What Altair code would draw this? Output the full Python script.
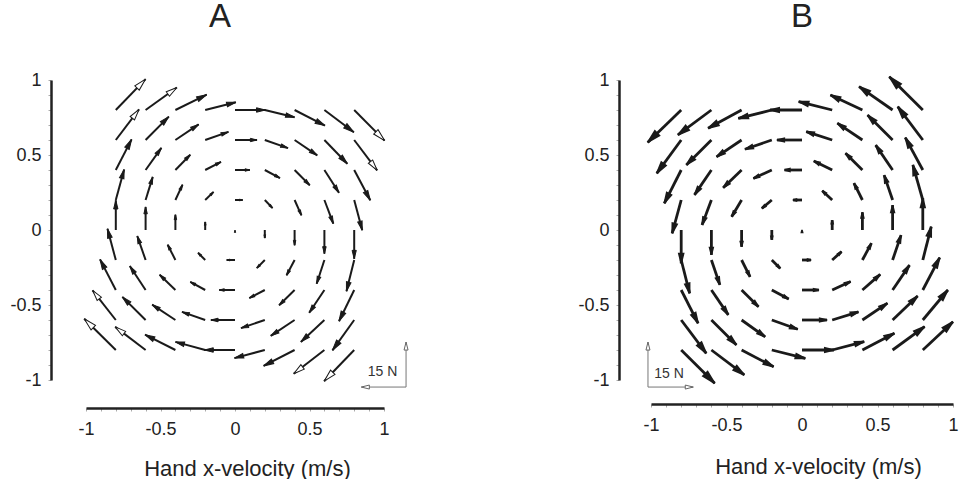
import altair as alt
import pandas as pd

# ---------------- data ----------------
GRID = [-0.8, -0.6, -0.4, -0.2, 0.0, 0.2, 0.4, 0.6, 0.8]          # hand velocity grid (m/s)
ROWS = [0.8, 0.6, 0.4, 0.2, 0.0, -0.2, -0.4, -0.6, -0.8]          # y-velocity of each row (top to bottom)
TICKS = [-1.0, -0.9, -0.8, -0.7, -0.6, -0.5, -0.4, -0.3, -0.2, -0.1, 0.0,
         0.1, 0.2, 0.3, 0.4, 0.5, 0.6, 0.7, 0.8, 0.9, 1.0]

# Panel A force components (N), rows top->bottom, columns left->right
A_FX = [
    [10.0, 10.5, 10.5, 10.3, 10.2, 10.0, 10.2, 9.9, 10.2],
    [7.8, 7.8, 7.8, 7.8, 7.4, 7.8, 7.6, 7.7, 7.7],
    [5.3, 5.3, 5.0, 5.3, 5.0, 5.1, 5.1, 4.9, 5.4],
    [2.8, 2.4, 2.4, 2.8, 2.6, 2.6, 2.3, 3.0, 2.7],
    [0.0, 0.0, 0.0, 0.0, 0.0, 0.0, 0.0, 0.0, 0.0],
    [-2.8, -2.8, -2.6, -2.4, -2.8, -2.7, -2.7, -2.6, -2.6],
    [-5.3, -5.3, -5.3, -5.0, -5.3, -5.2, -5.2, -5.1, -5.1],
    [-7.8, -7.8, -7.8, -7.8, -8.1, -8.0, -8.0, -7.9, -7.3],
    [-10.6, -10.2, -10.2, -10.0, -10.3, -10.2, -10.4, -10.3, -10.1],
]
A_FY = [
    [10.3, 7.5, 5.1, 2.6, 0.0, -2.4, -5.2, -7.4, -10.2],
    [10.2, 7.8, 5.2, 2.7, 0.0, -2.7, -5.1, -7.9, -10.1],
    [10.2, 7.4, 5.1, 2.7, 0.0, -2.7, -5.1, -7.6, -10.1],
    [10.2, 7.7, 5.1, 2.7, 0.0, -2.7, -5.1, -7.9, -10.1],
    [9.9, 7.7, 5.1, 2.7, 0.0, -2.7, -5.1, -7.9, -9.6],
    [10.4, 8.0, 5.1, 2.4, 0.0, -2.7, -5.1, -7.9, -10.4],
    [10.2, 8.0, 5.1, 2.7, 0.0, -2.7, -5.1, -7.6, -10.4],
    [9.9, 7.7, 5.1, 2.7, 0.0, -2.7, -5.3, -7.3, -10.1],
    [10.4, 7.7, 5.1, 2.7, 0.0, -2.7, -5.3, -7.9, -10.4],
]
# Panel B force components (N)
B_FX = [
    [-11.1, -11.1, -11.1, -11.1, -10.6, -11.1, -10.6, -11.1, -11.1],
    [-8.1, -8.3, -8.3, -8.9, -8.3, -8.6, -8.3, -8.3, -8.3],
    [-5.6, -5.6, -6.1, -6.1, -5.8, -6.1, -5.6, -5.6, -5.8],
    [-3.0, -3.1, -3.3, -3.3, -3.0, -3.3, -2.8, -2.8, -3.3],
    [0.0, 0.0, 0.0, 0.0, 0.0, 0.0, 0.0, 0.0, 0.0],
    [2.8, 2.8, 2.8, 2.8, 3.0, 3.1, 3.0, 2.8, 2.8],
    [5.6, 5.6, 5.6, 5.6, 5.6, 6.1, 5.9, 5.6, 5.6],
    [8.3, 8.3, 7.8, 8.6, 8.3, 8.7, 8.3, 8.3, 8.3],
    [11.1, 10.9, 10.6, 11.1, 10.6, 10.6, 10.6, 10.6, 10.0],
]
B_FY = [
    [-10.8, -8.3, -6.1, -2.8, 0.0, 2.8, 5.0, 7.8, 11.1],
    [-11.1, -8.3, -5.6, -3.1, 0.0, 2.8, 5.6, 8.3, 11.1],
    [-11.1, -8.3, -5.9, -2.8, 0.0, 3.0, 5.6, 8.3, 10.8],
    [-11.1, -8.3, -5.6, -2.8, 0.0, 3.1, 5.6, 8.3, 11.7],
    [-11.1, -8.3, -5.6, -3.3, 0.0, 3.3, 5.9, 8.3, 10.6],
    [-11.1, -8.3, -5.6, -2.8, 0.0, 2.8, 5.6, 8.3, 11.1],
    [-11.1, -8.3, -5.6, -3.0, 0.0, 2.8, 5.2, 8.3, 10.8],
    [-11.1, -8.3, -5.6, -3.1, 0.0, 2.7, 5.6, 8.0, 10.0],
    [-11.1, -8.3, -5.6, -2.8, 0.0, 2.8, 5.6, 7.8, 9.4],
]
SCALE_N = 15  # force scale bar (N)

# ---------------- styling / layout ----------------
FONT = "Liberation Sans"
INK = "#1a1a1a"
HEAD = "M0,0L0.5,2L-0.5,2Z"   # arrow head, tip at origin
UNITS_PER_N = 0.02


def field_table(fx, fy):
    recs = []
    for i, vy in enumerate(ROWS):
        for j, vx in enumerate(GRID):
            recs.append({"vx": vx, "vy": vy, "fx": fx[i][j], "fy": fy[i][j]})
    return pd.DataFrame(recs)


def panel(name, fx, fy, width, xoff, yoff, title_y, title_x, sw, hw, hollow_thr,
          bar_anchor, bar_dirx, text_pos, letter_pos):
    df = field_table(fx, fy)
    xs = alt.Scale(domain=[-1, 1], nice=False, zero=False)
    ys = alt.Scale(domain=[-1, 1], nice=False, zero=False)
    label_expr = ("abs(datum.value*2 - round(datum.value*2)) < 0.001 ? "
                  "(datum.value < 0 ? '-' : '') + format(abs(datum.value), '~g') : ''")
    common = dict(values=TICKS, labelExpr=label_expr, domainColor="#222", domainWidth=2.5,
                  ticks=True, tickSize=3, tickColor="#aaa", tickWidth=1,
                  labelFont=FONT, labelFontSize=18, labelColor="#222",
                  labelOverlap=False, labelFlush=False, grid=False)
    xaxis = alt.Axis(offset=xoff, labelPadding=9, title="Hand x-velocity (m/s)",
                     titleFont=FONT, titleFontSize=22, titleFontWeight="normal",
                     titleColor="#222", titleX=title_x, titleY=title_y,
                     titleBaseline="alphabetic", titleAlign="center", **common)
    yaxis = alt.Axis(offset=yoff, labelPadding=7, title=None, **common)

    def X(f):
        return alt.X(f, scale=xs, axis=xaxis)

    def Y(f):
        return alt.Y(f, scale=ys, axis=yaxis)

    base = alt.Chart(df).transform_calculate(
        ex=f"datum.vx + datum.fx*{UNITS_PER_N}",
        ey=f"datum.vy + datum.fy*{UNITS_PER_N}",
        mag="sqrt(datum.fx*datum.fx + datum.fy*datum.fy)",
    ).transform_calculate(
        ang="(atan2(datum.fx, datum.fy)*180/PI + 360) % 360",
        hs="pow(0.84*datum.mag, 2) + 6",
        hollow=f"datum.mag > {hollow_thr}",
    )
    shafts = base.mark_rule(color=INK, strokeWidth=sw).encode(
        x=X("vx:Q"), y=Y("vy:Q"), x2="ex:Q", y2="ey:Q",
    )
    heads = base.mark_point(shape=HEAD, filled=True, stroke=INK, strokeWidth=hw,
                            opacity=1, strokeJoin="miter").encode(
        x=X("ex:Q"), y=Y("ey:Q"),
        angle=alt.Angle("ang:Q", scale=None),
        size=alt.Size("hs:Q", scale=None),
        fill=alt.condition("datum.hollow", alt.value("white"), alt.value(INK)),
    )

    # force scale bar
    ax, ay = bar_anchor
    bar = pd.DataFrame([
        {"x": ax, "y": ay, "dx": bar_dirx * SCALE_N, "dy": 0.0},
        {"x": ax, "y": ay, "dx": 0.0, "dy": SCALE_N},
    ])
    bbase = alt.Chart(bar).transform_calculate(
        x2=f"datum.x + datum.dx*{UNITS_PER_N}",
        y2=f"datum.y + datum.dy*{UNITS_PER_N}",
        ang="(atan2(datum.dx, datum.dy)*180/PI + 360) % 360",
    )
    bar_rules = bbase.mark_rule(color="#777", strokeWidth=1).encode(
        x=X("x:Q"), y=Y("y:Q"), x2="x2:Q", y2="y2:Q",
    )
    bar_heads = bbase.mark_point(shape=HEAD, filled=True, fill="white", stroke="#666",
                                 strokeWidth=1, opacity=1, size=64).encode(
        x=X("x2:Q"), y=Y("y2:Q"),
        angle=alt.Angle("ang:Q", scale=None),
    )
    txt = pd.DataFrame([{"x": text_pos[0], "y": text_pos[1], "t": f"{SCALE_N} N"}])
    bar_text = alt.Chart(txt).mark_text(font=FONT, fontSize=14, color="#333",
                                        align="center", baseline="middle").encode(
        x=X("x:Q"), y=Y("y:Q"), text="t:N",
    )
    letter = pd.DataFrame([{"x": letter_pos[0], "y": letter_pos[1], "t": name}])
    letter_text = alt.Chart(letter).mark_text(font=FONT, fontSize=33, color="#222",
                                              align="center", baseline="alphabetic").encode(
        x=X("x:Q"), y=Y("y:Q"), text="t:N",
    )
    return alt.layer(shafts, heads, bar_rules, bar_heads, bar_text, letter_text).properties(
        width=width, height=300)


pA = panel("A", A_FX, A_FY, 298, xoff=28, yoff=35, title_y=67, title_x=161,
           sw=2, hw=1, hollow_thr=12.5,
           bar_anchor=(1.148, -1.047), bar_dirx=-1, text_pos=(0.99, -0.947),
           letter_pos=(-0.10, 1.353))
pB = panel("B", B_FX, B_FY, 302, xoff=24, yoff=32, title_y=69, title_x=167,
           sw=2.8, hw=1.6, hollow_thr=99,
           bar_anchor=(-1.02, -1.047), bar_dirx=1, text_pos=(-0.88, -0.96),
           letter_pos=(0.0, 1.353))

chart = alt.hconcat(pA, pB, spacing=267, bounds="flush").properties(
    padding={"left": 9, "top": 1, "right": 0, "bottom": 0},
    background="white",
).configure_view(stroke=None)

chart.save("out.html", embed_options={"renderer": "svg", "actions": False})
